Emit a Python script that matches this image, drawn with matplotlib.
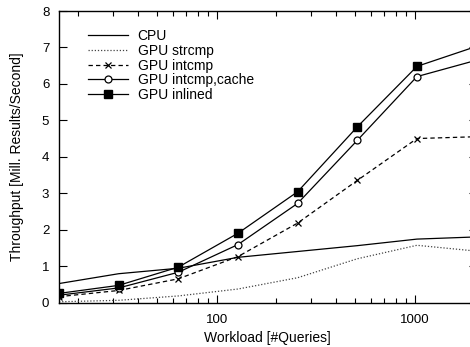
import matplotlib
matplotlib.use("Agg")
import matplotlib.pyplot as plt
from matplotlib.ticker import LogLocator, FixedLocator, NullFormatter, FuncFormatter

plt.rcParams['font.family'] = ['Liberation Sans', 'DejaVu Sans']

queries = [16, 32, 64, 128, 256, 512, 1024, 2048]
cpu = [0.52, 0.79, 0.94, 1.24, 1.40, 1.56, 1.74, 1.80]
gpu_strcmp = [0.02, 0.06, 0.18, 0.37, 0.68, 1.20, 1.57, 1.41]
gpu_intcmp = [0.16, 0.33, 0.65, 1.26, 2.18, 3.35, 4.50, 4.55]
gpu_intcmp_cache = [0.20, 0.40, 0.83, 1.59, 2.72, 4.45, 6.20, 6.65]
gpu_inlined = [0.25, 0.47, 0.97, 1.90, 3.04, 4.82, 6.48, 7.03]

labels = ["CPU", "GPU strcmp", "GPU intcmp", "GPU intcmp,cache", "GPU inlined"]
x_ticks = [100, 1000]
y_ticks = [0, 1, 2, 3, 4, 5, 6, 7, 8]

fig = plt.figure(figsize=(4.70, 3.47), dpi=100)
ax = fig.add_axes([59 / 470, 44.5 / 347, 417.6 / 470, 291.5 / 347])

lw = 0.9
ax.plot(queries, cpu, color='black', lw=lw, label=labels[0])
ax.plot(queries, gpu_strcmp, color='#444444', lw=0.9, ls=(0, (1, 1.5)), label=labels[1])
ax.plot(queries, gpu_intcmp, color='black', lw=lw, ls=(0, (3.5, 2.5)), marker='x',
        ms=5, mew=0.9, label=labels[2])
ax.plot(queries, gpu_intcmp_cache, color='black', lw=lw, marker='o', ms=5,
        mfc='white', mew=0.9, label=labels[3])
ax.plot(queries, gpu_inlined, color='black', lw=lw, marker='s', ms=5.5,
        mfc='black', label=labels[4])

ax.set_xscale('log')
ax.set_xlim(16, 2048)
ax.set_ylim(0, 8)
ax.xaxis.set_major_locator(FixedLocator(x_ticks))
ax.xaxis.set_major_formatter(FuncFormatter(lambda v, p: f"{int(v)}"))
ax.xaxis.set_minor_locator(LogLocator(base=10, subs=range(2, 10), numticks=20))
ax.xaxis.set_minor_formatter(NullFormatter())
ax.set_yticks(y_ticks)

ax.tick_params(which='major', direction='in', length=6, width=0.8, top=True,
               right=True, labelsize=9.5, color='black')
ax.tick_params(axis='y', which='major', pad=7)
ax.tick_params(axis='x', which='major', pad=8)
ax.tick_params(which='minor', direction='in', length=3.5, width=0.8, top=True,
               right=True)
for s in ax.spines.values():
    s.set_linewidth(1.0)

ax.set_xlabel("Workload [#Queries]", fontsize=10, labelpad=4)
ax.set_ylabel("Throughput [Mill. Results/Second]", fontsize=10, labelpad=13)

leg = ax.legend(loc='upper left', bbox_to_anchor=(0.05, 0.966), frameon=False,
                fontsize=10, handlelength=2.9, handletextpad=0.65,
                labelspacing=0.05, borderaxespad=0.2)

fig.savefig("out.png", dpi=100)
